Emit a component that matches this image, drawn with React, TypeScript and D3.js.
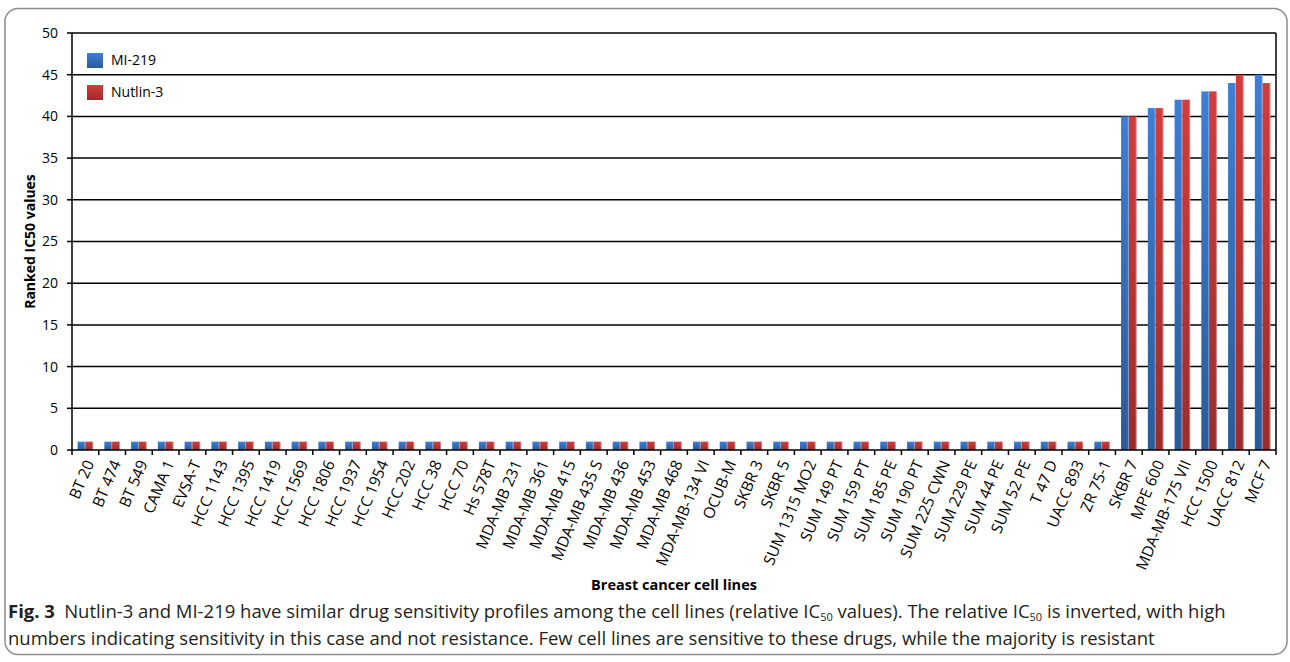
import React from 'react';
import * as d3 from 'd3';

const cellLines = [
  'BT 20', 'BT 474', 'BT 549', 'CAMA 1', 'EVSA-T', 'HCC 1143', 'HCC 1395', 'HCC 1419',
  'HCC 1569', 'HCC 1806', 'HCC 1937', 'HCC 1954', 'HCC 202', 'HCC 38', 'HCC 70', 'Hs 578T',
  'MDA-MB 231', 'MDA-MB 361', 'MDA-MB 415', 'MDA-MB 435 S', 'MDA-MB 436', 'MDA-MB 453',
  'MDA-MB 468', 'MDA-MB-134 VI', 'OCUB-M', 'SKBR 3', 'SKBR 5', 'SUM 1315 MO2', 'SUM 149 PT',
  'SUM 159 PT', 'SUM 185 PE', 'SUM 190 PT', 'SUM 225 CWN', 'SUM 229 PE', 'SUM 44 PE',
  'SUM 52 PE', 'T 47 D', 'UACC 893', 'ZR 75-1', 'SKBR 7', 'MPE 600', 'MDA-MB-175 VII',
  'HCC 1500', 'UACC 812', 'MCF 7',
];

const mi219 = [
  1, 1, 1, 1, 1, 1, 1, 1, 1, 1, 1, 1, 1, 1, 1, 1, 1, 1, 1, 1, 1, 1, 1, 1, 1, 1, 1, 1, 1, 1,
  1, 1, 1, 1, 1, 1, 1, 1, 1, 40, 41, 42, 43, 44, 45,
];
const nutlin3 = [
  1, 1, 1, 1, 1, 1, 1, 1, 1, 1, 1, 1, 1, 1, 1, 1, 1, 1, 1, 1, 1, 1, 1, 1, 1, 1, 1, 1, 1, 1,
  1, 1, 1, 1, 1, 1, 1, 1, 1, 40, 41, 42, 43, 45, 44,
];

const seriesNames = ['MI-219', 'Nutlin-3'];
const yTicks = [0, 5, 10, 15, 20, 25, 30, 35, 40, 45, 50];

const chartFont = '"Open Sans", "Noto Sans", sans-serif';
const captionFont = '"Open Sans", "Noto Sans", sans-serif';

const App: React.FC = () => {
  const width = 1290;
  const height = 662;
  const margin = { top: 33, right: 14, bottom: 212, left: 72 };
  const plotRight = width - margin.right;
  const plotBottom = height - margin.bottom;

  const x = d3.scaleBand<string>().domain(cellLines).range([margin.left, plotRight]);
  const x1 = d3.scaleBand<string>().domain(seriesNames).range([0, x.bandwidth()]).paddingOuter(0.72);
  const y = d3.scaleLinear().domain([0, 50]).range([plotBottom, margin.top]);

  const series = [
    { name: seriesNames[0], values: mi219, fill: 'url(#gBlue)' },
    { name: seriesNames[1], values: nutlin3, fill: 'url(#gRed)' },
  ];

  return (
    <svg width={width} height={height} style={{ position: 'absolute', left: 0, top: 0 }}>
      <defs>
        <linearGradient id="gBlue" x1="0" y1="0" x2="0" y2="1" gradientUnits="objectBoundingBox">
          <stop offset="0" stopColor="#3d7fd6" />
          <stop offset="1" stopColor="#2b5a98" />
        </linearGradient>
        <linearGradient id="gRed" x1="0" y1="0" x2="0" y2="1" gradientUnits="objectBoundingBox">
          <stop offset="0" stopColor="#d43c3c" />
          <stop offset="1" stopColor="#9a2c2c" />
        </linearGradient>
      </defs>

      {/* figure frame */}
      <rect x={5} y={8.5} width={1282} height={646} rx={13} fill="none" stroke="#8c8c8c" strokeWidth={1.5} />

      {/* gridlines */}
      {yTicks.filter(t => t > 0).map(t => (
        <line key={t} x1={margin.left} x2={plotRight} y1={y(t)} y2={y(t)} stroke="#000" strokeWidth={1.5} />
      ))}
      <line x1={plotRight} x2={plotRight} y1={margin.top} y2={plotBottom} stroke="#000" strokeWidth={1.5} />

      {/* bars */}
      {series.map(s => (
        <g key={s.name}>
          {cellLines.map((c, i) => {
            const bx = (x(c) || 0) + (x1(s.name) || 0);
            const bw = x1.bandwidth();
            return (
              <g key={c}>
                <rect x={bx} y={y(s.values[i])} width={bw} height={y(0) - y(s.values[i])} fill={s.fill} />
                <rect x={bx + bw - 1} y={y(s.values[i])} width={1.2} height={y(0) - y(s.values[i])}
                  fill="#fff" opacity={0.35} />
              </g>
            );
          })}
        </g>
      ))}

      {/* y axis */}
      <line x1={margin.left} x2={margin.left} y1={margin.top} y2={plotBottom} stroke="#000" strokeWidth={1.5} />
      {yTicks.map(t => (
        <g key={t}>
          <line x1={margin.left - 5} x2={margin.left} y1={y(t)} y2={y(t)} stroke="#000" strokeWidth={1.5} />
          <text x={margin.left - 14} y={y(t)} dy="0.35em" textAnchor="end" fontFamily={chartFont}
            fontSize={14} fill="#000">{t}</text>
        </g>
      ))}

      {/* x axis */}
      <line x1={margin.left} x2={plotRight} y1={plotBottom} y2={plotBottom} stroke="#000" strokeWidth={1.5} />
      {cellLines.map(c => (
        <line key={c} x1={x(c) || 0} x2={x(c) || 0} y1={plotBottom} y2={plotBottom + 5} stroke="#000" strokeWidth={1.5} />
      ))}
      <line x1={plotRight} x2={plotRight} y1={plotBottom} y2={plotBottom + 5} stroke="#000" strokeWidth={1.5} />
      {cellLines.map(c => {
        const cx = (x(c) || 0) + x.bandwidth() / 2 + 4;
        const cy = plotBottom + 11;
        return (
          <text key={c} transform={`translate(${cx},${cy}) rotate(-67)`} textAnchor="end" dy="0.35em"
            fontFamily={chartFont} fontSize={15.5} fill="#000">{c}</text>
        );
      })}

      {/* axis titles */}
      <text transform={`translate(30,${(margin.top + plotBottom) / 2}) rotate(-90)`} textAnchor="middle"
        dy="0.35em" fontFamily={chartFont} fontSize={14} fontWeight="bold" fill="#000">Ranked IC50 values</text>
      <text x={674} y={585} textAnchor="middle" dy="0.35em" fontFamily={chartFont} fontSize={14.5}
        fontWeight="bold" fill="#000">Breast cancer cell lines</text>

      {/* legend */}
      {series.map((s, i) => (
        <g key={s.name} transform={`translate(87,${53 + i * 32})`}>
          <rect width={16} height={15} fill={s.fill} />
          <text x={24} y={7.5} dy="0.35em" fontFamily={chartFont} fontSize={14} fill="#000">{s.name}</text>
        </g>
      ))}

      {/* caption */}
      <text x={8} y={618} fontFamily={captionFont} fontSize={18.5} fill="#231f20">
        <tspan fontWeight="bold">Fig. 3</tspan>
        <tspan>{'\u2002Nutlin-3 and MI-219 have similar drug sensitivity profiles among the cell lines (relative IC'}</tspan>
        <tspan fontSize={11} dy={3}>50</tspan>
        <tspan dy={-3}>{' values). The relative IC'}</tspan>
        <tspan fontSize={11} dy={3}>50</tspan>
        <tspan dy={-3}>{' is inverted, with high'}</tspan>
      </text>
      <text x={8} y={645} fontFamily={captionFont} fontSize={18.5} fill="#231f20">
        numbers indicating sensitivity in this case and not resistance. Few cell lines are sensitive to these drugs, while the majority is resistant
      </text>
    </svg>
  );
};

export default App;
